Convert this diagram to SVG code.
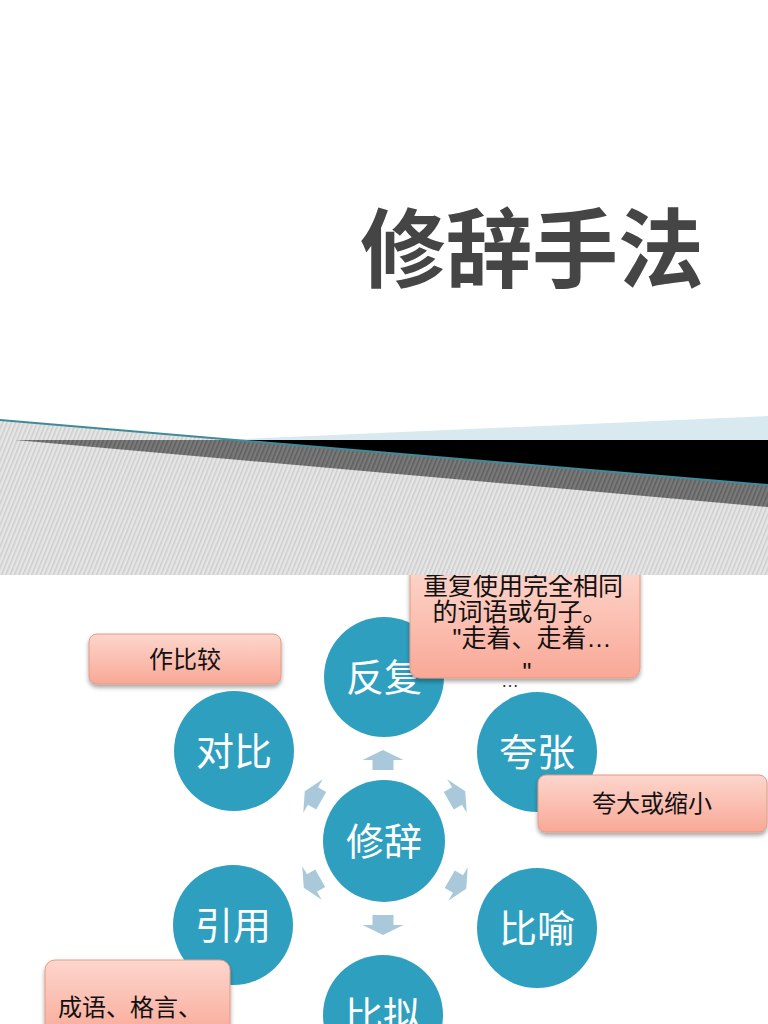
<svg xmlns="http://www.w3.org/2000/svg" width="768" height="1024" viewBox="0 0 768 1024">
<defs>
<pattern id="hatch" width="4" height="4" patternUnits="userSpaceOnUse" patternTransform="rotate(22)"><rect width="4" height="4" fill="#e6e6e6"/><rect width="1.5" height="4" fill="#cdcdcd"/></pattern>
<pattern id="hatchDark" width="4" height="4" patternUnits="userSpaceOnUse" patternTransform="rotate(22)"><rect width="4" height="4" fill="#7a7a7a"/><rect width="1.5" height="4" fill="#5e5e5e"/></pattern>
<linearGradient id="salmon" x1="0" y1="0" x2="0" y2="1"><stop offset="0" stop-color="#fdd6cd"/><stop offset="1" stop-color="#f9a896"/></linearGradient>
<filter id="sh" x="-10%" y="-10%" width="120%" height="130%"><feDropShadow dx="0" dy="3" stdDeviation="2" flood-color="#000" flood-opacity="0.35"/></filter>
<path id="arr" d="M-10.5,10 L10.5,10 L10.5,0 L20.5,0 L0,-10 L-20.5,0 L-10.5,0 Z"/>
</defs>
<style>
.c{fill:#2f9fc0}
.ct{font-family:"Noto Sans CJK SC",sans-serif;font-size:38px;fill:#fff;text-anchor:middle}
.box{fill:url(#salmon);stroke:#e49a82;stroke-width:1;filter:url(#sh)}
.bt{font-family:"Liberation Sans","Noto Sans CJK SC",sans-serif;font-size:24px;fill:#111;text-anchor:middle}
.a{fill:#a9c9da}
</style>
<rect width="768" height="1024" fill="#fff"/>

<g id="connectors">
<use href="#arr" class="a" transform="translate(383,760)"/>
<use href="#arr" class="a" transform="translate(383,925) rotate(180)"/>
<use href="#arr" class="a" transform="translate(313,796) rotate(-60) scale(0.95)"/>
<use href="#arr" class="a" transform="translate(457,796) rotate(60) scale(0.95)"/>
<use href="#arr" class="a" transform="translate(312,883) rotate(-120) scale(0.95)"/>
<use href="#arr" class="a" transform="translate(458,884) rotate(120) scale(0.95)"/>
</g>

<g id="n-xiuci"><circle class="c" cx="384" cy="841" r="61"/><text class="ct" x="384" y="855">修辞</text></g>
<g id="n-fanfu"><circle class="c" cx="384" cy="677" r="60"/><text class="ct" x="384" y="691">反复</text></g>
<g id="n-duibi"><circle class="c" cx="234" cy="751" r="60"/><text class="ct" x="234" y="765">对比</text></g>
<g id="n-kuazhang"><circle class="c" cx="537" cy="752" r="60"/><text class="ct" x="537" y="766">夸张</text></g>
<g id="n-yinyong"><circle class="c" cx="233" cy="925" r="60"/><text class="ct" x="233" y="939">引用</text></g>
<g id="n-biyu"><circle class="c" cx="537" cy="928" r="60"/><text class="ct" x="537" y="942">比喻</text></g>
<g id="n-bini"><circle class="c" cx="383" cy="1015" r="60"/><text class="ct" x="383" y="1029">比拟</text></g>

<g id="note-duibi"><rect class="box" x="89" y="634" width="192" height="50" rx="8"/><text class="bt" x="185" y="668">作比较</text></g>
<g id="note-kuazhang"><rect class="box" x="538" y="775" width="229" height="57" rx="8"/><text class="bt" x="652" y="812">夸大或缩小</text></g>
<g id="note-yinyong"><rect class="box" x="45" y="960" width="185" height="80" rx="10"/><text class="bt" x="130" y="1016">成语、格言、</text></g>
<g id="note-fanfu"><rect class="box" x="410" y="565" width="230" height="113" rx="10"/>
<text class="bt" x="523" y="595" style="font-size:25px">重复使用完全相同</text>
<text class="bt" x="520" y="621" style="font-size:25px">的词语或句子。</text>
<text class="bt" x="532" y="647" style="font-size:25px">"走着、走着…</text>
<text class="bt" x="527" y="681" style="font-size:25px">"</text>
<text class="bt" x="510" y="687" style="font-size:18px;fill:#333">…</text>
</g>

<g id="band">
<polygon points="0,420 768,485 768,575 0,575" fill="url(#hatch)"/>
<polygon points="15,440 236,440 768,485 768,507" fill="url(#hatchDark)"/>
<polygon points="236,440 768,440 768,485" fill="#000"/>
<polygon points="220,440 768,416 768,440" fill="#d9e9f0"/>
<line x1="0" y1="420" x2="768" y2="485" stroke="#3f8a9b" stroke-width="2"/>
</g>

<g id="title"><text x="532" y="281" font-family="Noto Sans CJK SC, sans-serif" font-weight="bold" font-size="86" fill="#454545" text-anchor="middle">修辞手法</text></g>
</svg>
